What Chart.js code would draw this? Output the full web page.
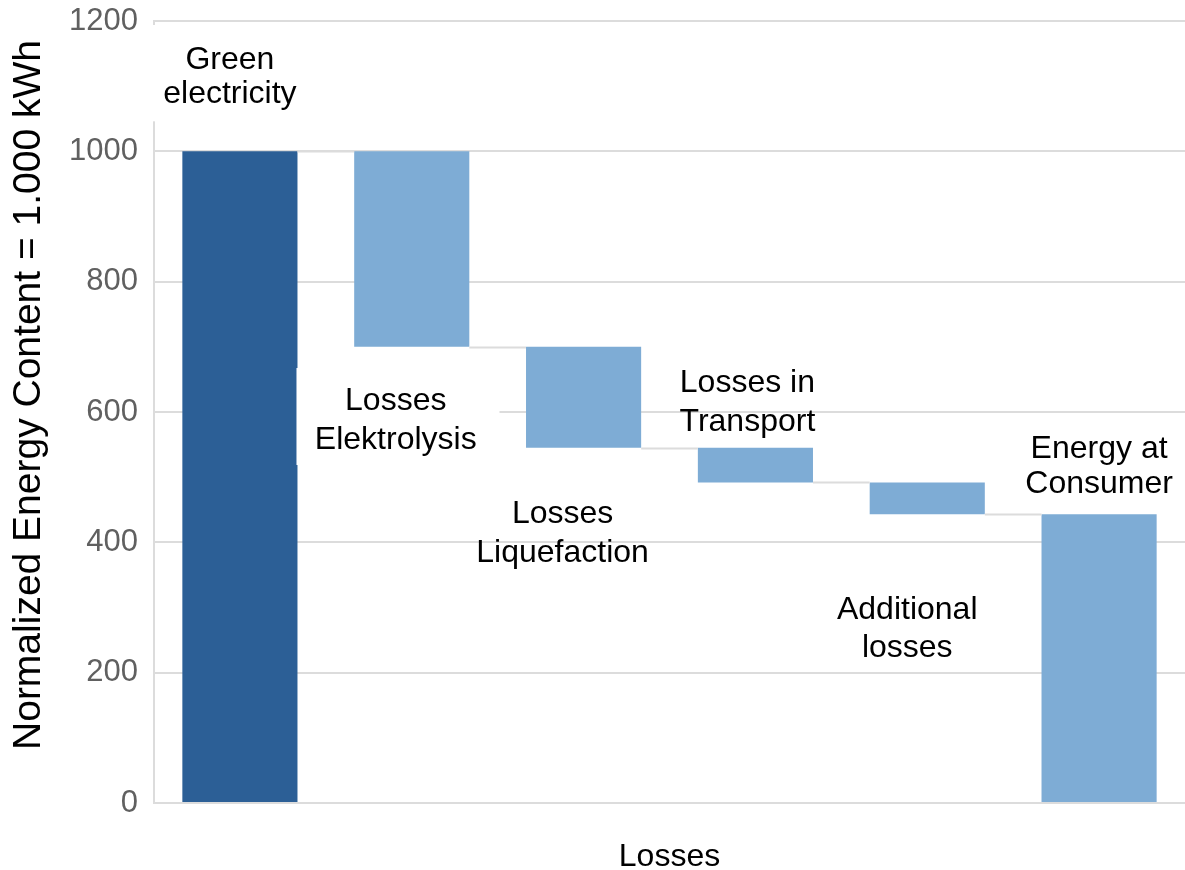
<!DOCTYPE html>
<html>
<head>
<meta charset="utf-8">
<script src="https://cdn.jsdelivr.net/npm/chart.js@4"></script>
<style>
  body { margin: 0; background: #fff; }
  #wrap { width: 1185px; height: 870px; }
</style>
</head>
<body>
<div id="wrap"><canvas id="chart" width="1185" height="870"></canvas></div>
<script>
// Waterfall: each step is a floating bar [start, end]
const categories = ['Green electricity', 'Losses Elektrolysis', 'Losses Liquefaction', 'Losses in Transport', 'Additional losses', 'Energy at Consumer'];
const barStart = [0, 700, 545, 492, 443, 0];
const barEnd = [1000, 1000, 700, 545, 492, 443];
const labelLines = [
  ['Green', 'electricity'],
  ['Losses', 'Elektrolysis'],
  ['Losses', 'Liquefaction'],
  ['Losses in', 'Transport'],
  ['Additional', 'losses'],
  ['Energy at', 'Consumer']
];
const yTitle = 'Normalized Energy Content = 1.000 kWh';
const xTitle = 'Losses';

// where each label sits: px offset from bar centre, value of first baseline, line gap
const labelLayout = [
  { dx: -10, v: 1127, gap: 34 },
  { dx: -16, v: 603, gap: 39 },
  { dx: -21, v: 430, gap: 39 },
  { dx: -8, v: 630, gap: 39 },
  { dx: -20, v: 283, gap: 38 },
  { dx: 0, v: 530, gap: 35 }
];

const DARK = '#2c5f96';
const LIGHT = '#7eacd5';
const GRID = '#dcdcdc';

const waterfallExtras = {
  id: 'waterfallExtras',
  afterDatasetsDraw(chart) {
    const ctx = chart.ctx;
    const meta = chart.getDatasetMeta(0);
    const y = chart.scales.y;
    const area = chart.chartArea;

    // connector lines between consecutive bars
    ctx.save();
    ctx.strokeStyle = GRID;
    ctx.lineWidth = 2;
    for (let i = 0; i < meta.data.length - 1; i++) {
      const a = meta.data[i], b = meta.data[i + 1];
      const level = i === 0 ? barEnd[0] : barStart[i];
      const py = Math.round(y.getPixelForValue(level)) + 0.5;
      ctx.beginPath();
      ctx.moveTo(a.x + a.width / 2, py);
      ctx.lineTo(b.x - b.width / 2, py);
      ctx.stroke();
    }

    // white boxes behind two of the labels
    ctx.fillStyle = '#fff';
    const b0 = meta.data[0];
    ctx.fillRect(area.left - 6, area.top + 4, b0.width + 60, y.getPixelForValue(1000) - area.top - 34);
    ctx.fillRect(b0.x + b0.width / 2 - 1, 368, 203, 97);

    // labels
    ctx.fillStyle = '#000';
    ctx.font = '32px "Liberation Sans", Arial, sans-serif';
    ctx.textAlign = 'center';
    ctx.textBaseline = 'alphabetic';
    labelLines.forEach((lines, i) => {
      const lay = labelLayout[i];
      const cx = meta.data[i].x + lay.dx;
      const by = y.getPixelForValue(lay.v);
      lines.forEach((t, j) => ctx.fillText(t, cx, by + j * lay.gap));
    });

    // y axis title
    ctx.translate(29, (area.top + area.bottom) / 2 - 17);
    ctx.rotate(-Math.PI / 2);
    ctx.textBaseline = 'middle';
    ctx.font = '39px "Liberation Sans", Arial, sans-serif';
    ctx.fillText(yTitle, 0, 0);
    ctx.restore();
  }
};

new Chart(document.getElementById('chart').getContext('2d'), {
  type: 'bar',
  data: {
    labels: categories,
    datasets: [{
      data: categories.map((c, i) => [barStart[i], barEnd[i]]),
      backgroundColor: categories.map((c, i) => i === 0 ? DARK : LIGHT),
      borderWidth: 0,
      barPercentage: 0.67,
      categoryPercentage: 1
    }]
  },
  options: {
    responsive: false,
    animation: false,
    layout: { padding: { top: 21, right: 0, left: 0, bottom: 0 } },
    plugins: {
      legend: { display: false },
      tooltip: { enabled: false }
    },
    scales: {
      x: {
        grid: { display: false },
        border: { display: true, color: GRID, width: 2 },
        ticks: { display: false },
        title: {
          display: true,
          text: xTitle,
          color: '#000',
          font: { family: '"Liberation Sans", Arial, sans-serif', size: 32, lineHeight: 1 },
          padding: { top: 0, bottom: -3 }
        },
        afterFit(scale) { scale.height = 67; }
      },
      y: {
        min: 0,
        max: 1200,
        ticks: {
          stepSize: 200,
          padding: 16,
          color: '#606060',
          font: { family: '"Liberation Sans", Arial, sans-serif', size: 31 },
          callback: v => String(v)
        },
        grid: { color: GRID, lineWidth: 2, drawTicks: false },
        border: { display: true, color: GRID, width: 2 },
        afterFit(scale) {
          scale.width = 154;
          scale.paddingTop = 0;
          scale.paddingBottom = 0;
        }
      }
    }
  },
  plugins: [waterfallExtras]
});
</script>
</body>
</html>
